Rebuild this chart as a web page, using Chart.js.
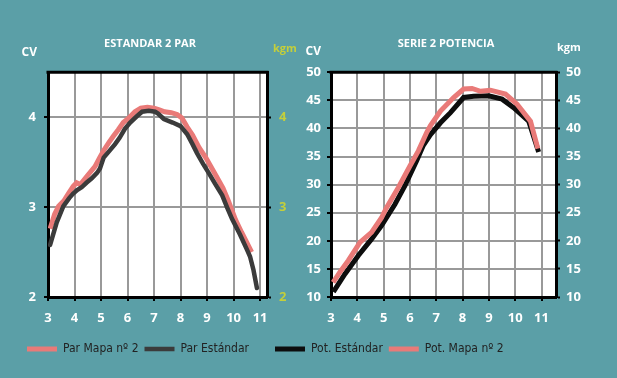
<!DOCTYPE html>
<html>
<head>
<meta charset="utf-8">
<script src="https://cdn.jsdelivr.net/npm/chart.js@4.4.1/dist/chart.umd.min.js"></script>
<style>
    html, body { margin: 0; padding: 0; background: #5b9fa7; overflow: hidden; width: 617px; height: 378px; }
    canvas { position: absolute; top: 0; }
    #chart_par { left: 0; }
    #chart_pot { left: 268px; }
</style>
</head>
<body>
<canvas id="chart_par" width="300" height="378"></canvas>
<canvas id="chart_pot" width="356" height="378"></canvas>
<script>
// Par (izquierda) - rpm x1000 / valor
const rpmParMapa = [3.08, 3.25, 3.4, 3.6, 3.77, 3.95, 4.08, 4.22, 4.46, 4.77, 4.95, 5.1, 5.3, 5.47, 5.65, 5.84, 6.05, 6.28, 6.5, 6.75, 7.0, 7.2, 7.4, 7.65, 7.87, 8.05, 8.25, 8.45, 8.7, 8.95, 9.2, 9.45, 9.6, 9.8, 10.07, 10.3, 10.51, 10.68];
const parMapa = [2.76, 2.92, 3.01, 3.07, 3.15, 3.23, 3.27, 3.25, 3.34, 3.45, 3.55, 3.63, 3.72, 3.79, 3.86, 3.94, 3.99, 4.06, 4.10, 4.11, 4.10, 4.08, 4.06, 4.05, 4.03, 3.99, 3.89, 3.80, 3.66, 3.55, 3.42, 3.29, 3.21, 3.07, 2.86, 2.72, 2.60, 2.50];
const rpmParStd = [3.08, 3.33, 3.58, 3.8, 3.95, 4.1, 4.27, 4.45, 4.65, 4.85, 4.96, 5.1, 5.3, 5.53, 5.7, 5.9, 6.1, 6.35, 6.55, 6.8, 7.04, 7.15, 7.37, 7.7, 8.0, 8.25, 8.45, 8.62, 8.85, 9.06, 9.3, 9.57, 9.75, 9.94, 10.25, 10.5, 10.62, 10.75, 10.88];
const parStd = [2.58, 2.83, 3.01, 3.10, 3.15, 3.19, 3.22, 3.27, 3.32, 3.38, 3.43, 3.55, 3.62, 3.70, 3.77, 3.87, 3.94, 4.01, 4.06, 4.07, 4.06, 4.04, 3.98, 3.94, 3.90, 3.81, 3.70, 3.60, 3.48, 3.38, 3.26, 3.13, 3.00, 2.87, 2.69, 2.53, 2.45, 2.30, 2.10];

// Potencia (derecha)
const rpmPotStd = [3.09, 3.53, 4.04, 4.54, 4.92, 5.43, 5.81, 6.25, 6.51, 6.78, 7.16, 7.54, 8.04, 8.42, 8.99, 9.5, 9.94, 10.51, 10.89];
const potStd = [10.9, 14.1, 17.4, 20.3, 22.7, 26.5, 29.8, 34.2, 37.0, 38.9, 41.0, 42.8, 45.5, 45.7, 45.8, 45.2, 43.7, 41.3, 35.8];
const rpmPotMapa = [3.08, 3.35, 3.66, 4.1, 4.54, 4.92, 5.11, 5.56, 6.0, 6.32, 6.64, 6.78, 7.16, 7.66, 8.04, 8.36, 8.68, 9.06, 9.63, 10.07, 10.58, 10.86];
const potMapa = [12.6, 14.5, 16.5, 19.7, 21.5, 24.1, 25.9, 29.5, 33.3, 36.0, 39.3, 40.5, 43.1, 45.5, 47.0, 47.1, 46.6, 46.8, 46.1, 44.3, 41.3, 36.4];

const PINK = '#e97a78';
const DARK = '#3b3b3b';
const BLACK = '#0d0d0d';
const OLIVE = '#c4cf3b';

const toPoints = (xs, ys) => xs.map((x, i) => ({ x: x, y: ys[i] }));

Chart.defaults.font.family = 'Open Sans';
Chart.defaults.animation = false;

const tickFont = { family: 'Open Sans', size: 13, weight: 'bold' };
const gridStyle = { color: '#999', lineWidth: 2, tickColor: '#000', tickLength: 4, tickWidth: 2 };
const borderStyle = { color: '#000', width: 3 };

const chartFrame = { // fondo blanco y borde superior
    id: 'chartFrame',
    beforeDraw(chart) {
        const { ctx, chartArea: a } = chart;
        ctx.save();
        ctx.fillStyle = '#fff';
        ctx.fillRect(a.left, a.top, a.right - a.left, a.bottom - a.top);
        ctx.restore();
    },
    afterDatasetsDraw(chart) {
        const { ctx, chartArea: a } = chart;
        ctx.save();
        ctx.strokeStyle = '#000';
        ctx.lineWidth = 3;
        ctx.beginPath();
        ctx.moveTo(a.left - 1.5, a.top);
        ctx.lineTo(a.right + 1.5, a.top);
        ctx.stroke();
        ctx.restore();
    }
};

const axisHeads = { // "CV" y "kgm" encima de los ejes
    id: 'axisHeads',
    afterDraw(chart, args, opts) {
        const { ctx, chartArea: a } = chart;
        ctx.save();
        ctx.textBaseline = 'middle';
        ctx.font = 'bold 12px "Open Sans"';
        ctx.fillStyle = '#fff';
        ctx.textAlign = 'right';
        ctx.fillText(opts.left, a.left + opts.leftDx, opts.leftY);
        ctx.font = 'bold 11px "Open Sans"';
        ctx.fillStyle = opts.rightColor;
        ctx.textAlign = 'left';
        ctx.fillText(opts.right, a.right + opts.rightDx, opts.rightY);
        ctx.restore();
    }
};

const legendShift = { // mueve la leyenda horizontalmente
    id: 'legendShift',
    afterLayout(chart, args, opts) {
        if (chart.legend) {
            chart.legend.left = opts.left;
        }
    }
};

const legendLabels = {
    usePointStyle: true,
    pointStyle: 'line',
    pointStyleWidth: 30,
    color: '#222',
    font: { family: "'DejaVu Sans Condensed', 'DejaVu Sans', sans-serif", size: 12 },
    padding: 6,
    sort: (a, b) => a.datasetIndex - b.datasetIndex
};

new Chart(document.getElementById('chart_par'), { // Par
    type: 'line',
    data: {
        datasets: [{
            label: 'Par Mapa nº 2',
            data: toPoints(rpmParMapa, parMapa),
            borderColor: PINK,
            backgroundColor: PINK,
            borderWidth: 5,
            pointRadius: 0,
            order: 1
        },
        {
            label: 'Par Estándar',
            data: toPoints(rpmParStd, parStd),
            borderColor: DARK,
            backgroundColor: DARK,
            borderWidth: 4.5,
            borderCapStyle: 'round',
            pointRadius: 0,
            order: 0
        }]
    },
    options: {
        responsive: false,
        layout: { padding: { bottom: 13 } },
        scales: {
            x: {
                type: 'linear', min: 3, max: 11.26,
                afterFit: s => { s.height = 40; },
                ticks: { stepSize: 1, includeBounds: false, color: '#fff', font: tickFont, padding: 9 },
                grid: gridStyle,
                border: borderStyle
            },
            y: {
                min: 2, max: 4.5,
                afterFit: s => { s.width = 48; },
                ticks: { stepSize: 1, includeBounds: false, color: '#fff', font: tickFont, padding: 8 },
                grid: gridStyle,
                border: borderStyle
            },
            y2: {
                position: 'right', min: 2, max: 4.5,
                afterFit: s => { s.width = 33; },
                ticks: { stepSize: 1, includeBounds: false, color: OLIVE, font: tickFont, padding: 8 },
                grid: { drawOnChartArea: false, tickColor: '#000', tickLength: 4, tickWidth: 2 },
                border: borderStyle
            }
        },
        plugins: {
            title: {
                display: true,
                text: 'ESTANDAR 2 PAR',
                color: '#fff',
                font: { family: 'Open Sans', size: 11, weight: 'bold' },
                padding: { top: 37, bottom: 22 }
            },
            legend: { position: 'bottom', align: 'start', labels: legendLabels },
            tooltip: { enabled: false },
            axisHeads: { left: 'CV', leftDx: -11, leftY: 53, right: 'kgm', rightDx: 6, rightY: 49, rightColor: OLIVE },
            legendShift: { left: 21 }
        }
    },
    plugins: [chartFrame, axisHeads, legendShift]
});

new Chart(document.getElementById('chart_pot'), { // Potencia
    type: 'line',
    data: {
        datasets: [{
            label: 'Pot. Estándar',
            data: toPoints(rpmPotStd, potStd),
            borderColor: BLACK,
            backgroundColor: BLACK,
            borderWidth: 5,
            pointRadius: 0,
            order: 1
        },
        {
            label: 'Pot. Mapa nº 2',
            data: toPoints(rpmPotMapa, potMapa),
            borderColor: PINK,
            backgroundColor: PINK,
            borderWidth: 5,
            pointRadius: 0,
            order: 0
        }]
    },
    options: {
        responsive: false,
        layout: { padding: { bottom: 13 } },
        scales: {
            x: {
                type: 'linear', min: 3, max: 11.55,
                afterFit: s => { s.height = 40; },
                ticks: { stepSize: 1, includeBounds: false, color: '#fff', font: tickFont, padding: 9 },
                grid: gridStyle,
                border: borderStyle
            },
            y: {
                min: 10, max: 50,
                afterFit: s => { s.width = 63; },
                ticks: { stepSize: 5, color: '#fff', font: tickFont, padding: 6 },
                grid: gridStyle,
                border: borderStyle
            },
            y2: {
                position: 'right', min: 10, max: 50,
                afterFit: s => { s.width = 68; },
                ticks: { stepSize: 5, color: '#fff', font: tickFont, padding: 6 },
                grid: { drawOnChartArea: false, tickColor: '#000', tickLength: 4, tickWidth: 2 },
                border: borderStyle
            }
        },
        plugins: {
            title: {
                display: true,
                text: 'SERIE 2 POTENCIA',
                color: '#fff',
                font: { family: 'Open Sans', size: 11, weight: 'bold' },
                padding: { top: 37, bottom: 22 }
            },
            legend: { position: 'bottom', align: 'start', labels: legendLabels },
            tooltip: { enabled: false },
            axisHeads: { left: 'CV', leftDx: -10, leftY: 52, right: 'kgm', rightDx: 1, rightY: 48, rightColor: '#fff' },
            legendShift: { left: 1 }
        }
    },
    plugins: [chartFrame, axisHeads, legendShift]
});
</script>
</body>
</html>
